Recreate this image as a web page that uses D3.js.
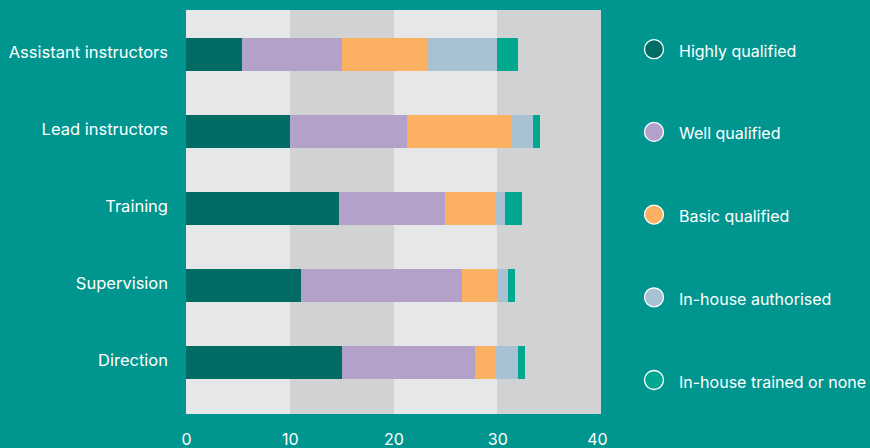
<!DOCTYPE html>
<html>
<head>
<meta charset="utf-8">
<script src="https://cdn.jsdelivr.net/npm/d3@7"></script>
<style>
  html, body { margin: 0; padding: 0; background: #00968f; }
  svg { display: block; }
  text { font-family: Inter, "Noto Sans", sans-serif; fill: #ffffff; }
</style>
</head>
<body>
<svg id="chart" width="870" height="448"></svg>
<script>
// Roles shown as rows, top to bottom
const categories = ["Assistant instructors", "Lead instructors", "Training", "Supervision", "Direction"];

// Qualification levels, stacked left to right
const seriesNames = ["Highly qualified", "Well qualified", "Basic qualified", "In-house authorised", "In-house trained or none"];

// Values per qualification level, one entry per role (same order as categories)
const highlyQualified   = [5.4, 10.0, 14.7, 11.1, 15.0];
const wellQualified     = [9.6, 11.3, 10.3, 15.5, 12.9];
const basicQualified    = [8.2, 10.0, 4.9, 3.4, 2.0];
const inHouseAuthorised = [6.8, 2.1, 0.8, 1.0, 2.1];
const inHouseTrained    = [2.0, 0.7, 1.7, 0.7, 0.7];

const xTicks = [0, 10, 20, 30, 40];

const colors = ["#006c64", "#b3a1cc", "#fbb062", "#a8c2d4", "#00a88f"];
const bandColors = ["#e6e7e8", "#d1d2d4"];

const seriesValues = [highlyQualified, wellQualified, basicQualified, inHouseAuthorised, inHouseTrained];

// Table for d3.stack: one row per role
const table = categories.map((c, i) => {
  const row = { category: c };
  seriesNames.forEach((s, j) => { row[s] = seriesValues[j][i]; });
  return row;
});

const svg = d3.select("#chart");
const plot = { left: 186, right: 601, top: 10, bottom: 414 };

const x = d3.scaleLinear().domain([0, 40]).range([plot.left, plot.right]);
const y = d3.scaleBand()
  .domain(categories)
  .range([plot.top, plot.bottom])
  .paddingInner(0.571)
  .paddingOuter(0.412)
  .align(0.44);

// Alternating background bands between ticks
const bands = d3.pairs(xTicks);
svg.append("g")
  .attr("shape-rendering", "crispEdges")
  .selectAll("rect")
  .data(bands)
  .join("rect")
  .attr("x", d => x(d[0]))
  .attr("width", d => x(d[1]) - x(d[0]))
  .attr("y", plot.top)
  .attr("height", plot.bottom - plot.top)
  .attr("fill", (d, i) => bandColors[i % 2]);

// Stacked bars
const stacked = d3.stack().keys(seriesNames)(table);
svg.append("g")
  .attr("shape-rendering", "crispEdges")
  .selectAll("g")
  .data(stacked)
  .join("g")
  .attr("fill", (d, i) => colors[i])
  .selectAll("rect")
  .data(d => d)
  .join("rect")
  .attr("x", d => x(d[0]))
  .attr("width", d => x(d[1]) - x(d[0]))
  .attr("y", d => y(d.data.category))
  .attr("height", y.bandwidth());

// Row labels
svg.append("g").selectAll("text")
  .data(categories)
  .join("text")
  .attr("x", plot.left - 18)
  .attr("y", d => y(d) + y.bandwidth() / 2 + 3.5)
  .attr("text-anchor", "end")
  .style("font-size", "16.5px")
  .text(d => d);

// Bottom axis labels; the last one is pulled in slightly from the plot edge
const xAxis = d3.axisBottom(x).tickValues(xTicks).tickSize(0).tickPadding(0);
const axisG = svg.append("g")
  .attr("transform", `translate(0, ${plot.bottom})`)
  .call(xAxis);
axisG.select(".domain").remove();
axisG.selectAll("text")
  .attr("y", 31)
  .attr("dy", null)
  .attr("dx", d => d === xTicks[xTicks.length - 1] ? -4 : 0)
  .style("font-size", "16px")
  .style("fill", "#ffffff");

// Legend
const ly = d3.scalePoint().domain(seriesNames).range([49.2, 380]);
const legend = svg.append("g").selectAll("g")
  .data(seriesNames)
  .join("g")
  .attr("transform", d => `translate(654, ${ly(d)})`);
legend.append("circle")
  .attr("r", 9.5)
  .attr("fill", (d, i) => colors[i])
  .attr("stroke", "#ffffff")
  .attr("stroke-width", 1.3);
legend.append("text")
  .attr("x", 25)
  .attr("y", 7.5)
  .style("font-size", "16px")
  .text(d => d);
</script>
</body>
</html>
